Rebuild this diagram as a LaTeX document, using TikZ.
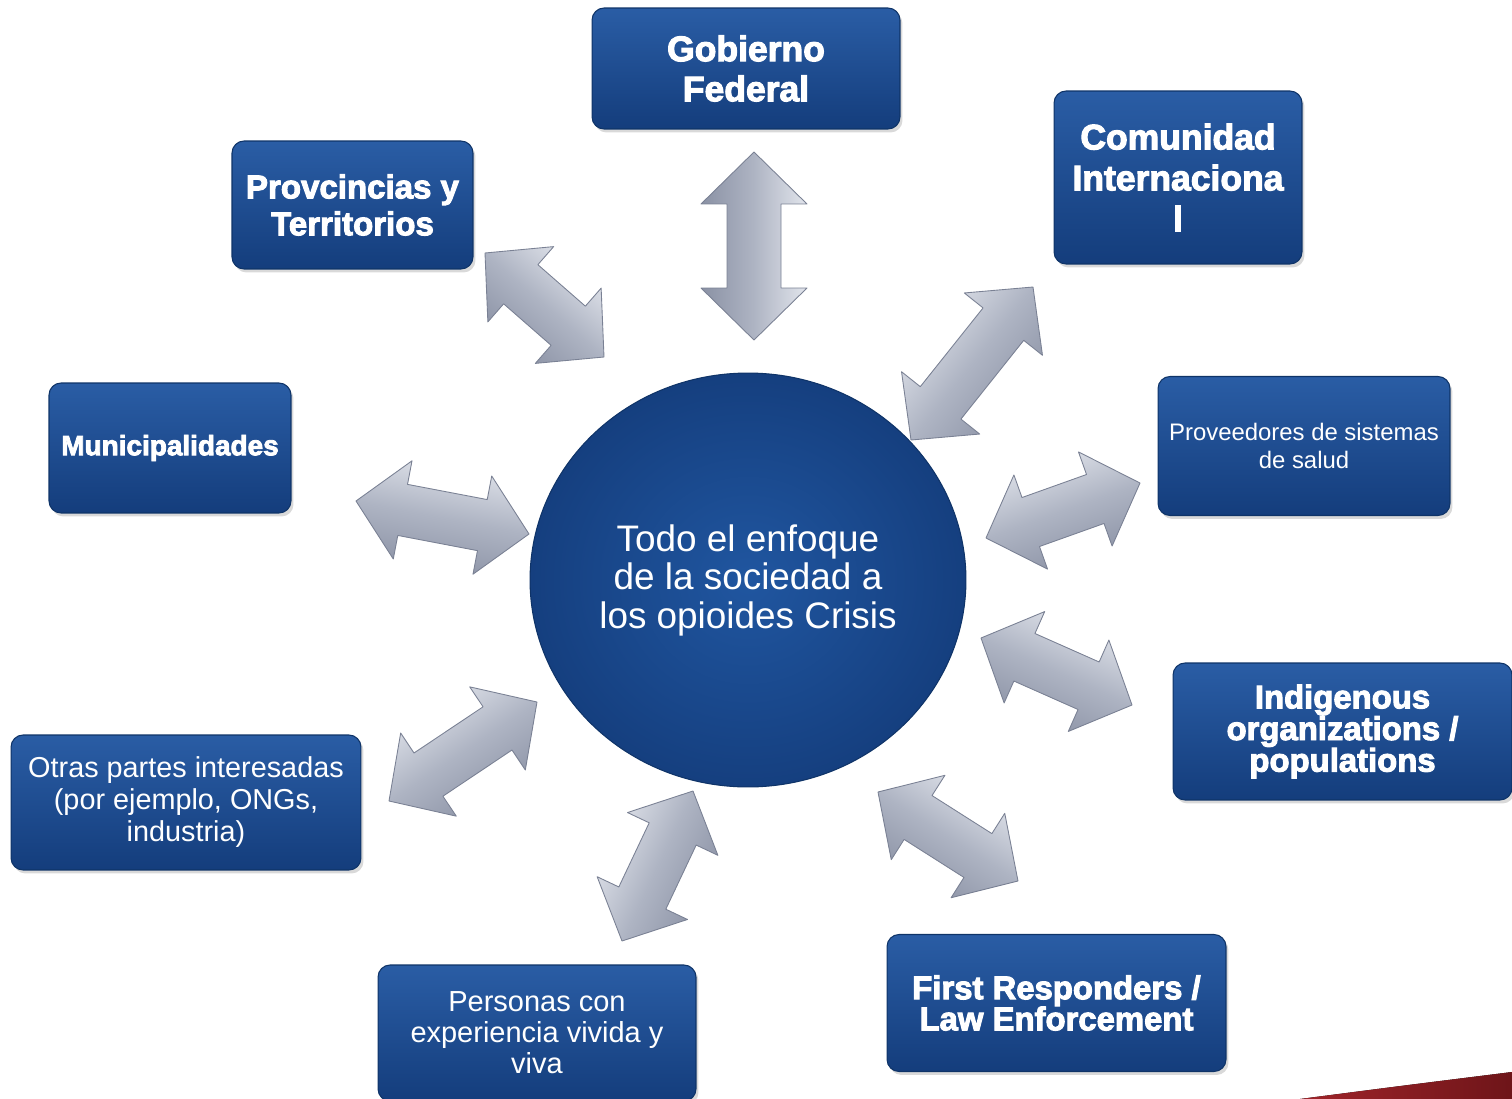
\documentclass[tikz,border=0pt]{standalone}
\usepackage{fontspec}
\setmainfont{Liberation Sans}
\newfontfamily\heavyfont[FakeBold=3]{Liberation Sans Bold}
\usetikzlibrary{shapes.geometric,shadows,calc}

\definecolor{boxtop}{HTML}{2A5DA5}
\definecolor{boxbot}{HTML}{143D7C}
\definecolor{boxedge}{HTML}{0F3468}
\definecolor{hubin}{HTML}{2056A0}
\definecolor{hubout}{HTML}{153F7F}
\definecolor{arrlight}{HTML}{E2E5EC}
\definecolor{arrmid}{HTML}{AEB4C3}
\definecolor{arrdark}{HTML}{8A91A4}
\definecolor{arredge}{HTML}{7A8194}
\definecolor{swoosh}{HTML}{A0242A}
\definecolor{swooshdark}{HTML}{6E1519}

\tikzset{
  stake/.style={rectangle, rounded corners=0.24cm, top color=boxtop, bottom color=boxbot,
    draw=boxedge, line width=0.6pt, text=white, align=center, inner sep=0pt,
    drop shadow={shadow xshift=0.05cm, shadow yshift=-0.07cm, opacity=0.3}},
  hub/.style={ellipse, inner color=hubin, outer color=hubout, draw=boxedge,
    line width=0.6pt, text=white, align=center, inner sep=0pt},
  arrowbody/.style={top color=arrlight, bottom color=arrdark, middle color=arrmid,
    draw=arredge, line width=0.5pt, line join=round}
}

% double arrow between two named points: tips, head length, half head, half shaft
\newcommand{\twoway}[5]{%
  \pgfmathanglebetweenpoints{\pgfpointanchor{#1}{center}}{\pgfpointanchor{#2}{center}}%
  \edef\arrang{\pgfmathresult}%
  \coordinate (#1h) at ($(#1)!#3!(#2)$);
  \coordinate (#2h) at ($(#2)!#3!(#1)$);
  \path[arrowbody, shading angle=\arrang] (#1) -- ($(#1h)!#4!90:(#2)$) -- ($(#1h)!#5!90:(#2)$)
    -- ($(#2h)!#5!-90:(#1)$) -- ($(#2h)!#4!-90:(#1)$) -- (#2)
    -- ($(#2h)!#4!90:(#1)$) -- ($(#2h)!#5!90:(#1)$)
    -- ($(#1h)!#5!-90:(#2)$) -- ($(#1h)!#4!-90:(#2)$) -- cycle;
}

\begin{document}
\begin{tikzpicture}[x=0.02cm, y=-0.02cm]
\useasboundingbox (0,0) rectangle (1512,1099);

% red corner
\fill[left color=swoosh, right color=swooshdark] (1300,1099) .. controls (1400,1086) .. (1512,1072) -- (1512,1099) -- cycle;

% centre
\node[hub, minimum width=8.72cm, minimum height=8.28cm, font=\fontsize{21}{21.9}\selectfont] (crisis) at (748,580) {Todo el enfoque\\de la sociedad a\\los opioides Crisis};

% stakeholders
\node[stake, minimum width=6.16cm, minimum height=2.42cm, font=\heavyfont\fontsize{20.2}{22.8}\selectfont] (gob) at (746,68.5) {Gobierno\\Federal};
\node[stake, minimum width=4.96cm, minimum height=3.46cm, font=\heavyfont\fontsize{20.2}{23.3}\selectfont] (comu) at (1178,177.5) {Comunidad\\Internaciona\\l};
\node[stake, minimum width=4.82cm, minimum height=2.56cm, font=\heavyfont\fontsize{18.8}{21}\selectfont] (prov) at (352.5,205) {Provcincias y\\Territorios};
\node[stake, minimum width=4.84cm, minimum height=2.6cm, font=\heavyfont\fontsize{15.9}{18}\selectfont] (muni) at (170,448) {Municipalidades};
\node[stake, minimum width=5.84cm, minimum height=2.78cm, font=\fontsize{13.6}{15.9}\selectfont] (salud) at (1304,446) {Proveedores de sistemas\\de salud};
\node[stake, minimum width=6.78cm, minimum height=2.74cm, font=\heavyfont\fontsize{18.7}{18}\selectfont] (indi) at (1342.5,731.5) {Indigenous\\organizations /\\populations};
\node[stake, minimum width=7.0cm, minimum height=2.7cm, font=\fontsize{16.4}{18.2}\selectfont] (otras) at (186,802.5) {Otras partes interesadas\\(por ejemplo, ONGs,\\industria)};
\node[stake, minimum width=6.36cm, minimum height=2.72cm, font=\fontsize{16.5}{17.6}\selectfont] (pers) at (537,1033) {Personas con\\experiencia vivida y\\viva};
\node[stake, minimum width=6.78cm, minimum height=2.74cm, font=\heavyfont\fontsize{18.7}{17.7}\selectfont] (first) at (1056.5,1003) {First Responders /\\Law Enforcement};

% arrow tips
\coordinate (g1) at (754,152);
\coordinate (g2) at (754,340);
\coordinate (p1) at (485,253);
\coordinate (p2) at (604,357);
\coordinate (c1) at (911,440);
\coordinate (c2) at (1033,287);
\coordinate (m1) at (356,501);
\coordinate (m2) at (529,534);
\coordinate (s1) at (986,538);
\coordinate (s2) at (1140,483);
\coordinate (i1) at (981,638);
\coordinate (i2) at (1132,705);
\coordinate (o1) at (389,801);
\coordinate (o2) at (537,702);
\coordinate (v1) at (622,941);
\coordinate (v2) at (693,791);
\coordinate (f1) at (878,792);
\coordinate (f2) at (1018,881);

\twoway{g1}{g2}{1.04cm}{1.06cm}{0.54cm}
\twoway{p1}{p2}{0.95cm}{1.0cm}{0.52cm}
\twoway{c1}{c2}{0.95cm}{1.0cm}{0.52cm}
\twoway{m1}{m2}{0.95cm}{1.0cm}{0.52cm}
\twoway{s1}{s2}{0.95cm}{1.0cm}{0.52cm}
\twoway{i1}{i2}{0.95cm}{1.0cm}{0.52cm}
\twoway{o1}{o2}{0.95cm}{1.0cm}{0.52cm}
\twoway{v1}{v2}{0.95cm}{1.0cm}{0.52cm}
\twoway{f1}{f2}{0.95cm}{1.0cm}{0.52cm}
\end{tikzpicture}
\end{document}
